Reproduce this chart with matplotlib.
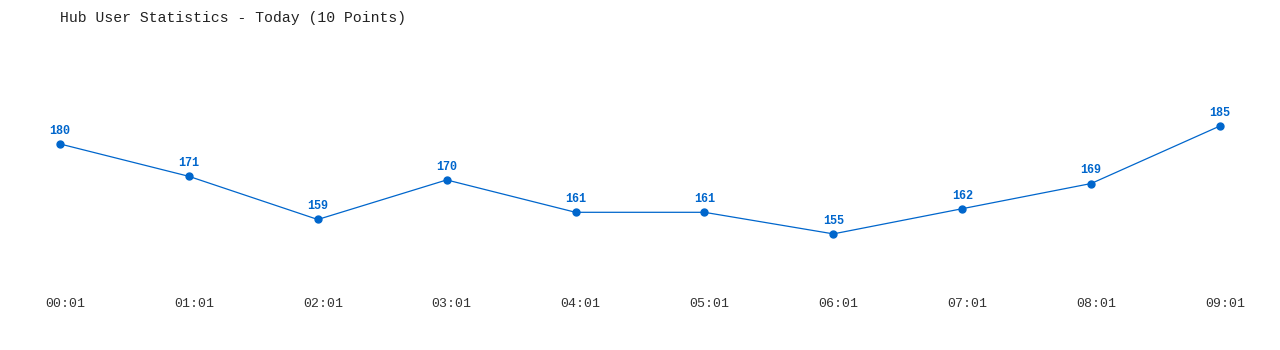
import matplotlib.pyplot as plt
import matplotlib.transforms as mtransforms

#### data ####
times = ['00:01', '01:01', '02:01', '03:01', '04:01', '05:01', '06:01', '07:01', '08:01', '09:01']
users = [180, 171, 159, 170, 161, 161, 155, 162, 169, 185]

blue = '#0066cc'
mono = ['Liberation Mono', 'DejaVu Sans Mono']

#### plot ####
fig = plt.figure(figsize=(12.8, 3.5), dpi=100)
ax = fig.add_axes([60 / 1280, 60 / 350, 1160 / 1280, 250 / 350])

x = list(range(len(users)))
ax.plot(x, users, color=blue, lw=0.9, marker='o', ms=5, clip_on=False)

for xi, v in zip(x, users):
    ax.annotate(str(v), (xi, v), xytext=(0, 9.5), textcoords='offset points',
                ha='center', va='center', color=blue, fontsize=8.5,
                fontweight='bold', family=mono)

ax.set_xlim(0, 9)
ax.set_ylim(139.4, 208.9)
ax.set_xticks(x)
ax.set_xticklabels(times, family=mono, fontsize=9.5, color='#333333')
ax.set_yticks([])
ax.tick_params(axis='x', length=0, pad=6)
# labels sit a few pixels right of the points
shift = mtransforms.ScaledTranslation(5 / 100, 0, fig.dpi_scale_trans)
for lbl in ax.get_xticklabels():
    lbl.set_transform(lbl.get_transform() + shift)
for s in ax.spines.values():
    s.set_visible(False)

fig.text(60 / 1280, 1 - 18 / 350, 'Hub User Statistics - Today (10 Points)',
         ha='left', va='center', fontsize=10.6, family=mono, color='#222222')

fig.savefig('out.png', dpi=100)
